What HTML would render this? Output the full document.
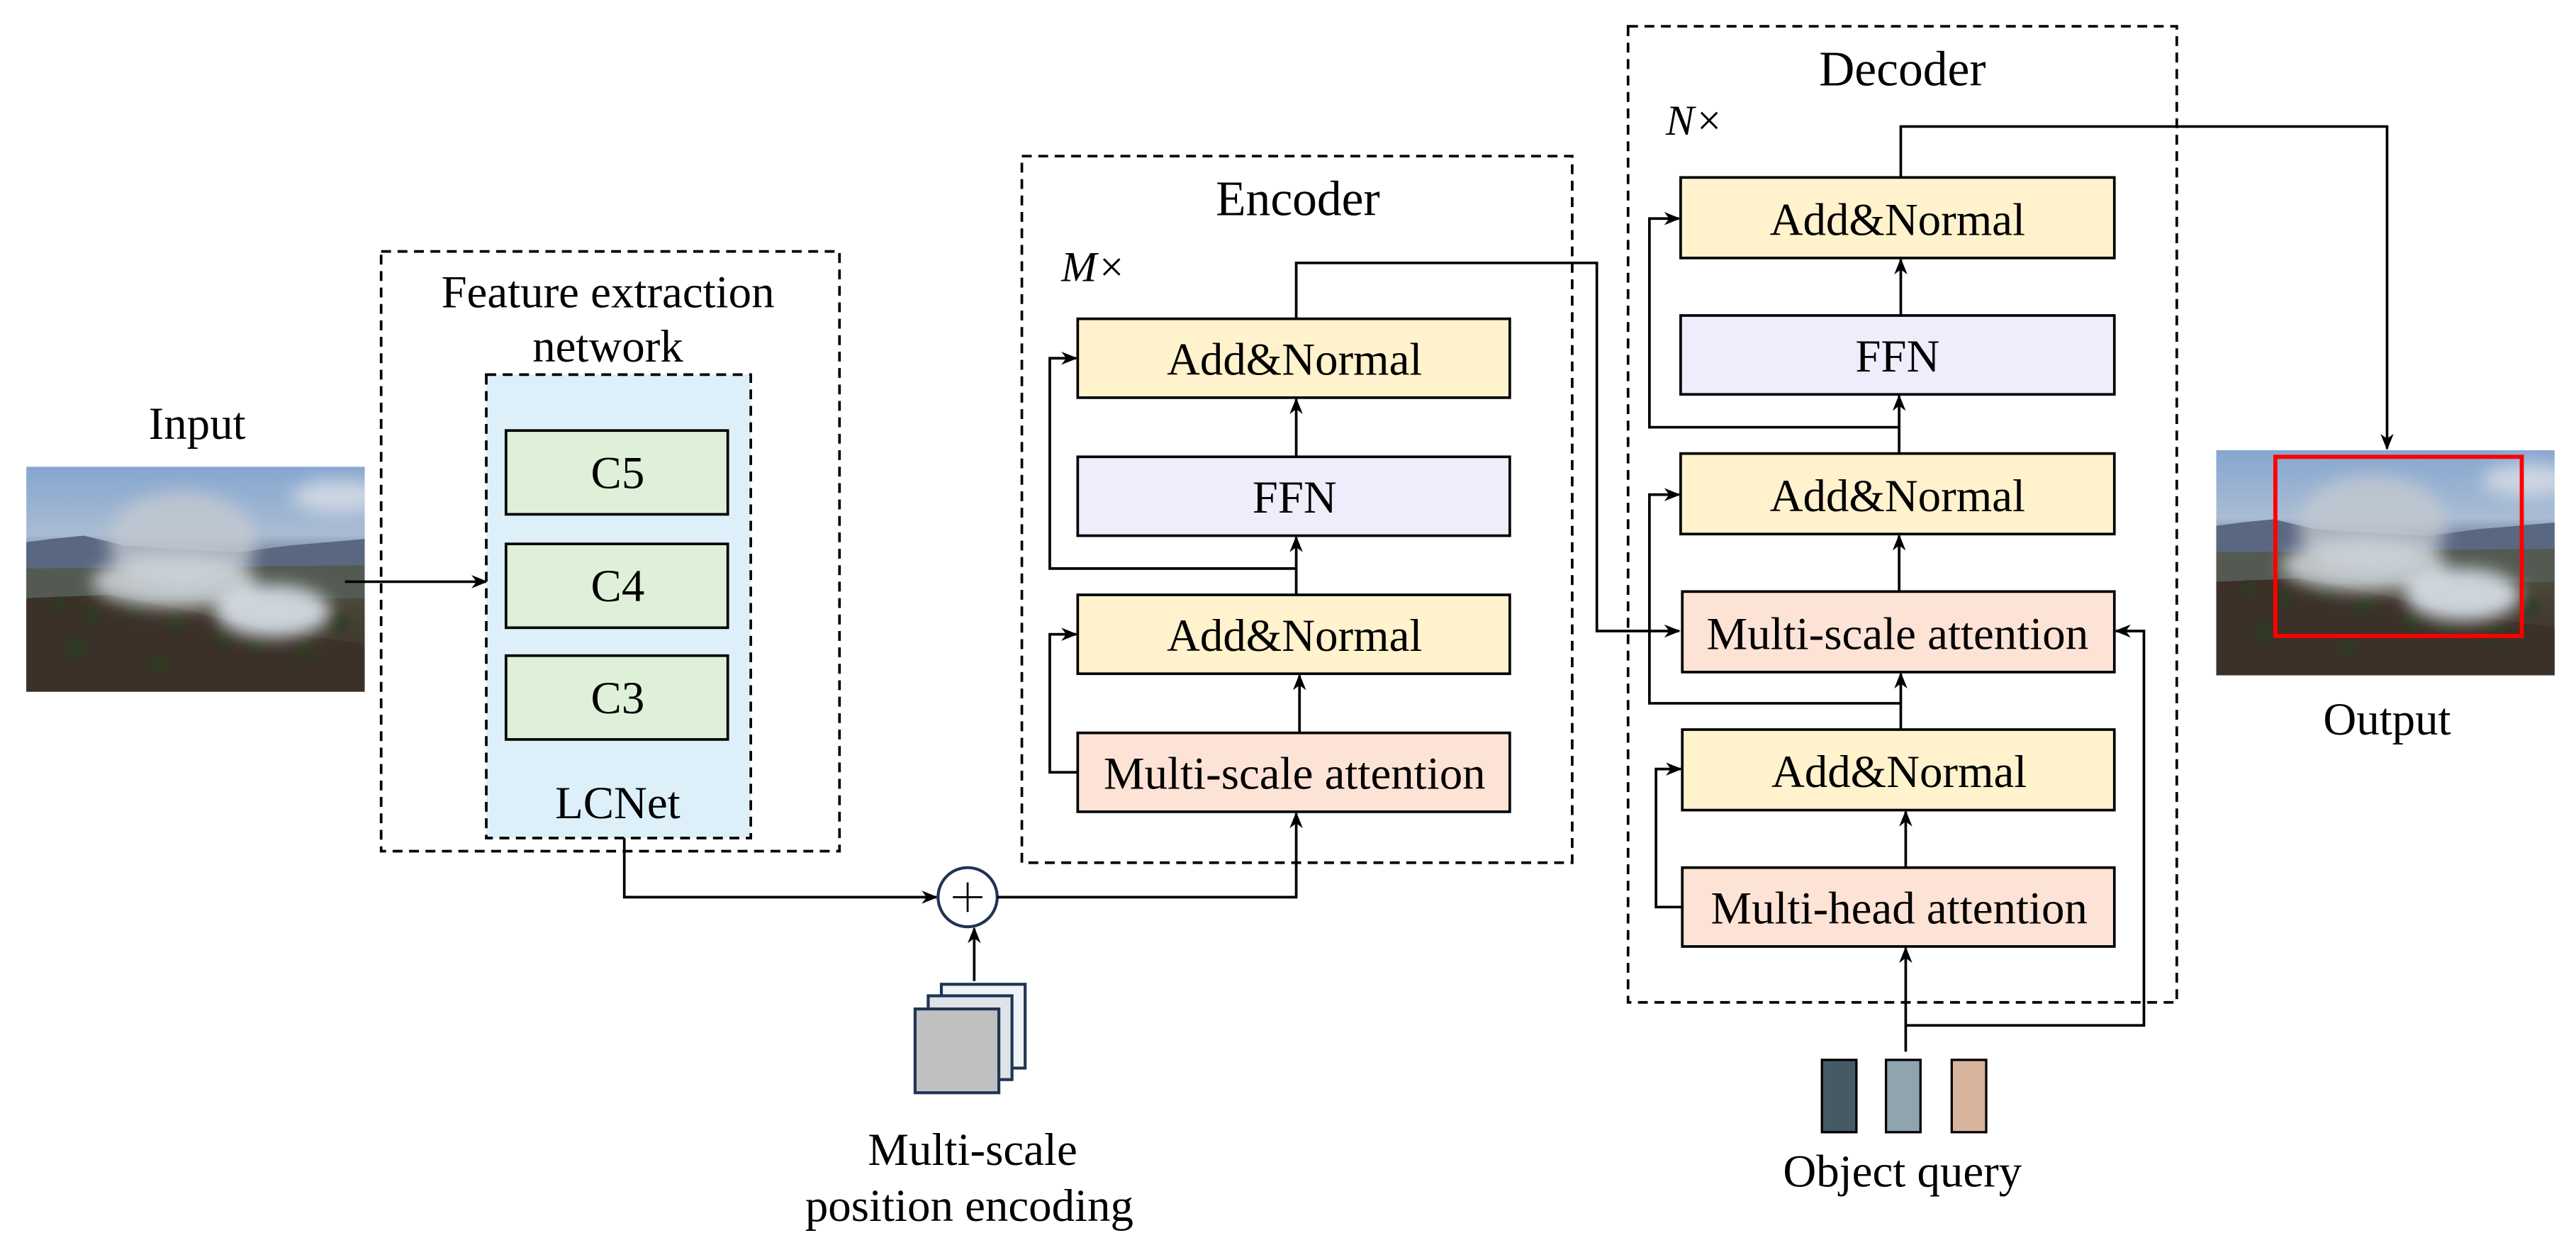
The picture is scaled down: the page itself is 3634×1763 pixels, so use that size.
<!DOCTYPE html>
<html><head><meta charset="utf-8"><style>
html,body{margin:0;padding:0;background:#fff;}
svg{display:block;}
text{font-family:"Liberation Serif",serif;fill:#000;}
</style></head><body>
<svg width="3634" height="1763" viewBox="0 0 1568 760.7" xmlns="http://www.w3.org/2000/svg">
<defs>
<marker id="ah" markerWidth="10" markerHeight="10" refX="9" refY="5" orient="auto" markerUnits="userSpaceOnUse">
<path d="M0,1 L10,5 L0,9 L3,5 Z" fill="#000"/>
</marker>
<linearGradient id="sky" x1="0" y1="0" x2="0" y2="1">
<stop offset="0" stop-color="#86a6d0"/><stop offset="0.3" stop-color="#a9bcd3"/><stop offset="0.4" stop-color="#6f7f98"/>
<stop offset="0.5" stop-color="#5f6a73"/><stop offset="0.6" stop-color="#4a4638"/><stop offset="1" stop-color="#352c27"/>
</linearGradient>
<filter id="bl"><feGaussianBlur stdDeviation="5"/></filter>
<filter id="bl2"><feGaussianBlur stdDeviation="1.5"/></filter>
<clipPath id="pc"><rect x="0" y="0" width="206" height="137"/></clipPath>
<g id="photo">
<g clip-path="url(#pc)">
<rect x="0" y="0" width="206" height="137" fill="url(#sky)"/>
<path d="M0,46 L15,44 L35,42 L60,48 L90,50 L130,52 L160,48 L206,44 L206,62 L0,64 Z" fill="#5a6780"/>
<path d="M0,62 L206,60 L206,80 L0,82 Z" fill="#545a52"/>
<path d="M0,80 L50,78 L100,88 L150,100 L206,108 L206,137 L0,137 Z" fill="#3b3128"/>
<g filter="url(#bl2)" fill="#2f3a22" opacity="0.8">
<circle cx="20" cy="85" r="5"/><circle cx="40" cy="90" r="6"/><circle cx="65" cy="86" r="5"/><circle cx="90" cy="95" r="6"/>
<circle cx="120" cy="104" r="6"/><circle cx="140" cy="108" r="5"/><circle cx="170" cy="112" r="6"/><circle cx="30" cy="110" r="7"/>
<circle cx="80" cy="120" r="6"/><circle cx="190" cy="95" r="6"/>
</g>
<g filter="url(#bl)">
<ellipse cx="95" cy="45" rx="45" ry="30" fill="#c6cbd0" opacity="0.75"/>
<ellipse cx="90" cy="70" rx="50" ry="16" fill="#d0d6dc" opacity="0.85"/>
<ellipse cx="150" cy="88" rx="35" ry="16" fill="#dbe4ee" opacity="0.9"/>
<ellipse cx="190" cy="18" rx="28" ry="10" fill="#e4e6ea" opacity="0.7"/>
</g>
</g>
</g>
</defs>

<!-- Input -->
<text x="120" y="267" font-size="28" text-anchor="middle">Input</text>
<use href="#photo" x="16" y="284"/>
<line x1="210" y1="354" x2="296" y2="354" stroke="#000" stroke-width="1.6" marker-end="url(#ah)"/>

<!-- Feature extraction -->
<rect x="232" y="153" width="279" height="365" fill="none" stroke="#000" stroke-width="1.6" stroke-dasharray="6,4"/>
<text x="370" y="187" font-size="28" text-anchor="middle">Feature extraction</text>
<text x="370" y="220" font-size="28" text-anchor="middle">network</text>
<rect x="296" y="228" width="161" height="282" fill="#ddf0f9" stroke="#000" stroke-width="1.6" stroke-dasharray="6,4"/>
<rect x="308" y="262" width="135" height="51" fill="#dff0d8" stroke="#000" stroke-width="1.6"/>
<rect x="308" y="331" width="135" height="51" fill="#dff0d8" stroke="#000" stroke-width="1.6"/>
<rect x="308" y="399" width="135" height="51" fill="#dff0d8" stroke="#000" stroke-width="1.6"/>
<text x="376" y="297" font-size="28" text-anchor="middle">C5</text>
<text x="376" y="366" font-size="28" text-anchor="middle">C4</text>
<text x="376" y="434" font-size="28" text-anchor="middle">C3</text>
<text x="376" y="498" font-size="28" text-anchor="middle">LCNet</text>

<!-- to plus -->
<polyline points="380,510 380,546 570,546" fill="none" stroke="#000" stroke-width="1.6" marker-end="url(#ah)"/>
<circle cx="589" cy="546" r="18" fill="#fff" stroke="#1f3554" stroke-width="1.8"/>
<line x1="580" y1="546" x2="598" y2="546" stroke="#000" stroke-width="1.2"/>
<line x1="589" y1="537" x2="589" y2="555" stroke="#000" stroke-width="1.2"/>
<polyline points="607,546 789,546 789,495" fill="none" stroke="#000" stroke-width="1.6" marker-end="url(#ah)"/>
<line x1="593" y1="597" x2="593" y2="565" stroke="#000" stroke-width="1.6" marker-end="url(#ah)"/>
<rect x="573" y="599" width="51" height="51" fill="#f0f3f6" stroke="#1f3554" stroke-width="1.8"/>
<rect x="565" y="606" width="51" height="51" fill="#dfe3e7" stroke="#1f3554" stroke-width="1.8"/>
<rect x="557" y="614" width="51" height="51" fill="#c0c0c0" stroke="#1f3554" stroke-width="1.8"/>
<text x="592" y="709" font-size="28" text-anchor="middle">Multi-scale</text>
<text x="590" y="743" font-size="28" text-anchor="middle">position encoding</text>

<!-- Encoder -->
<rect x="622" y="95" width="335" height="430" fill="none" stroke="#000" stroke-width="1.6" stroke-dasharray="6,4"/>
<text x="790" y="131" font-size="30" text-anchor="middle">Encoder</text>
<text x="646" y="171" font-size="26" font-style="italic">M×</text>
<rect x="656" y="194" width="263" height="48" fill="#fff2cc" stroke="#000" stroke-width="1.6"/>
<rect x="656" y="278" width="263" height="48" fill="#eeedfc" stroke="#000" stroke-width="1.6"/>
<rect x="656" y="362" width="263" height="48" fill="#fff2cc" stroke="#000" stroke-width="1.6"/>
<rect x="656" y="446" width="263" height="48" fill="#fde3d6" stroke="#000" stroke-width="1.6"/>
<text x="788" y="228" font-size="28" text-anchor="middle">Add&amp;Normal</text>
<text x="788" y="312" font-size="28" text-anchor="middle">FFN</text>
<text x="788" y="396" font-size="28" text-anchor="middle">Add&amp;Normal</text>
<text x="788" y="480" font-size="28" text-anchor="middle">Multi-scale attention</text>
<line x1="791" y1="446" x2="791" y2="411" stroke="#000" stroke-width="1.6" marker-end="url(#ah)"/>
<line x1="789" y1="362" x2="789" y2="327" stroke="#000" stroke-width="1.6" marker-end="url(#ah)"/>
<line x1="789" y1="278" x2="789" y2="243" stroke="#000" stroke-width="1.6" marker-end="url(#ah)"/>
<polyline points="656,470 639,470 639,386 655,386" fill="none" stroke="#000" stroke-width="1.6" marker-end="url(#ah)"/>
<polyline points="789,346 639,346 639,218 655,218" fill="none" stroke="#000" stroke-width="1.6" marker-end="url(#ah)"/>
<polyline points="789,194 789,160 972,160 972,384 1022,384" fill="none" stroke="#000" stroke-width="1.6" marker-end="url(#ah)"/>

<!-- Decoder -->
<rect x="991" y="16" width="334" height="594" fill="none" stroke="#000" stroke-width="1.6" stroke-dasharray="6,4"/>
<text x="1158" y="52" font-size="30" text-anchor="middle">Decoder</text>
<text x="1014" y="82" font-size="26" font-style="italic">N×</text>
<rect x="1023" y="108" width="264" height="49" fill="#fff2cc" stroke="#000" stroke-width="1.6"/>
<rect x="1023" y="192" width="264" height="48" fill="#eeedfc" stroke="#000" stroke-width="1.6"/>
<rect x="1023" y="276" width="264" height="49" fill="#fff2cc" stroke="#000" stroke-width="1.6"/>
<rect x="1024" y="360" width="263" height="49" fill="#fde3d6" stroke="#000" stroke-width="1.6"/>
<rect x="1024" y="444" width="263" height="49" fill="#fff2cc" stroke="#000" stroke-width="1.6"/>
<rect x="1024" y="528" width="263" height="48" fill="#fde3d6" stroke="#000" stroke-width="1.6"/>
<text x="1155" y="143" font-size="28" text-anchor="middle">Add&amp;Normal</text>
<text x="1155" y="226" font-size="28" text-anchor="middle">FFN</text>
<text x="1155" y="311" font-size="28" text-anchor="middle">Add&amp;Normal</text>
<text x="1155" y="395" font-size="28" text-anchor="middle">Multi-scale attention</text>
<text x="1156" y="479" font-size="28" text-anchor="middle">Add&amp;Normal</text>
<text x="1156" y="562" font-size="28" text-anchor="middle">Multi-head attention</text>
<line x1="1160" y1="528" x2="1160" y2="494" stroke="#000" stroke-width="1.6" marker-end="url(#ah)"/>
<line x1="1157" y1="444" x2="1157" y2="410" stroke="#000" stroke-width="1.6" marker-end="url(#ah)"/>
<line x1="1156" y1="360" x2="1156" y2="326" stroke="#000" stroke-width="1.6" marker-end="url(#ah)"/>
<line x1="1156" y1="276" x2="1156" y2="241" stroke="#000" stroke-width="1.6" marker-end="url(#ah)"/>
<line x1="1157" y1="192" x2="1157" y2="158" stroke="#000" stroke-width="1.6" marker-end="url(#ah)"/>
<polyline points="1024,552 1008,552 1008,468 1023,468" fill="none" stroke="#000" stroke-width="1.6" marker-end="url(#ah)"/>
<polyline points="1157,428 1004,428 1004,301 1022,301" fill="none" stroke="#000" stroke-width="1.6" marker-end="url(#ah)"/>
<polyline points="1156,260 1004,260 1004,133 1022,133" fill="none" stroke="#000" stroke-width="1.6" marker-end="url(#ah)"/>
<line x1="1160" y1="640" x2="1160" y2="577" stroke="#000" stroke-width="1.6" marker-end="url(#ah)"/>
<polyline points="1160,624 1305,624 1305,384 1288,384" fill="none" stroke="#000" stroke-width="1.6" marker-end="url(#ah)"/>
<polyline points="1157,108 1157,77 1453,77 1453,273" fill="none" stroke="#000" stroke-width="1.6" marker-end="url(#ah)"/>

<!-- Object query -->
<rect x="1109" y="645" width="21" height="44" fill="#455a64" stroke="#000" stroke-width="1.4"/>
<rect x="1148" y="645" width="21" height="44" fill="#90a4ae" stroke="#000" stroke-width="1.4"/>
<rect x="1188" y="645" width="21" height="44" fill="#d7b29c" stroke="#000" stroke-width="1.4"/>
<text x="1158" y="722" font-size="28" text-anchor="middle">Object query</text>

<!-- Output -->
<use href="#photo" x="1349" y="274"/>
<rect x="1385" y="278" width="150" height="109" fill="none" stroke="#ff0000" stroke-width="2.5"/>
<text x="1453" y="447" font-size="28" text-anchor="middle">Output</text>
</svg>
</body></html>
